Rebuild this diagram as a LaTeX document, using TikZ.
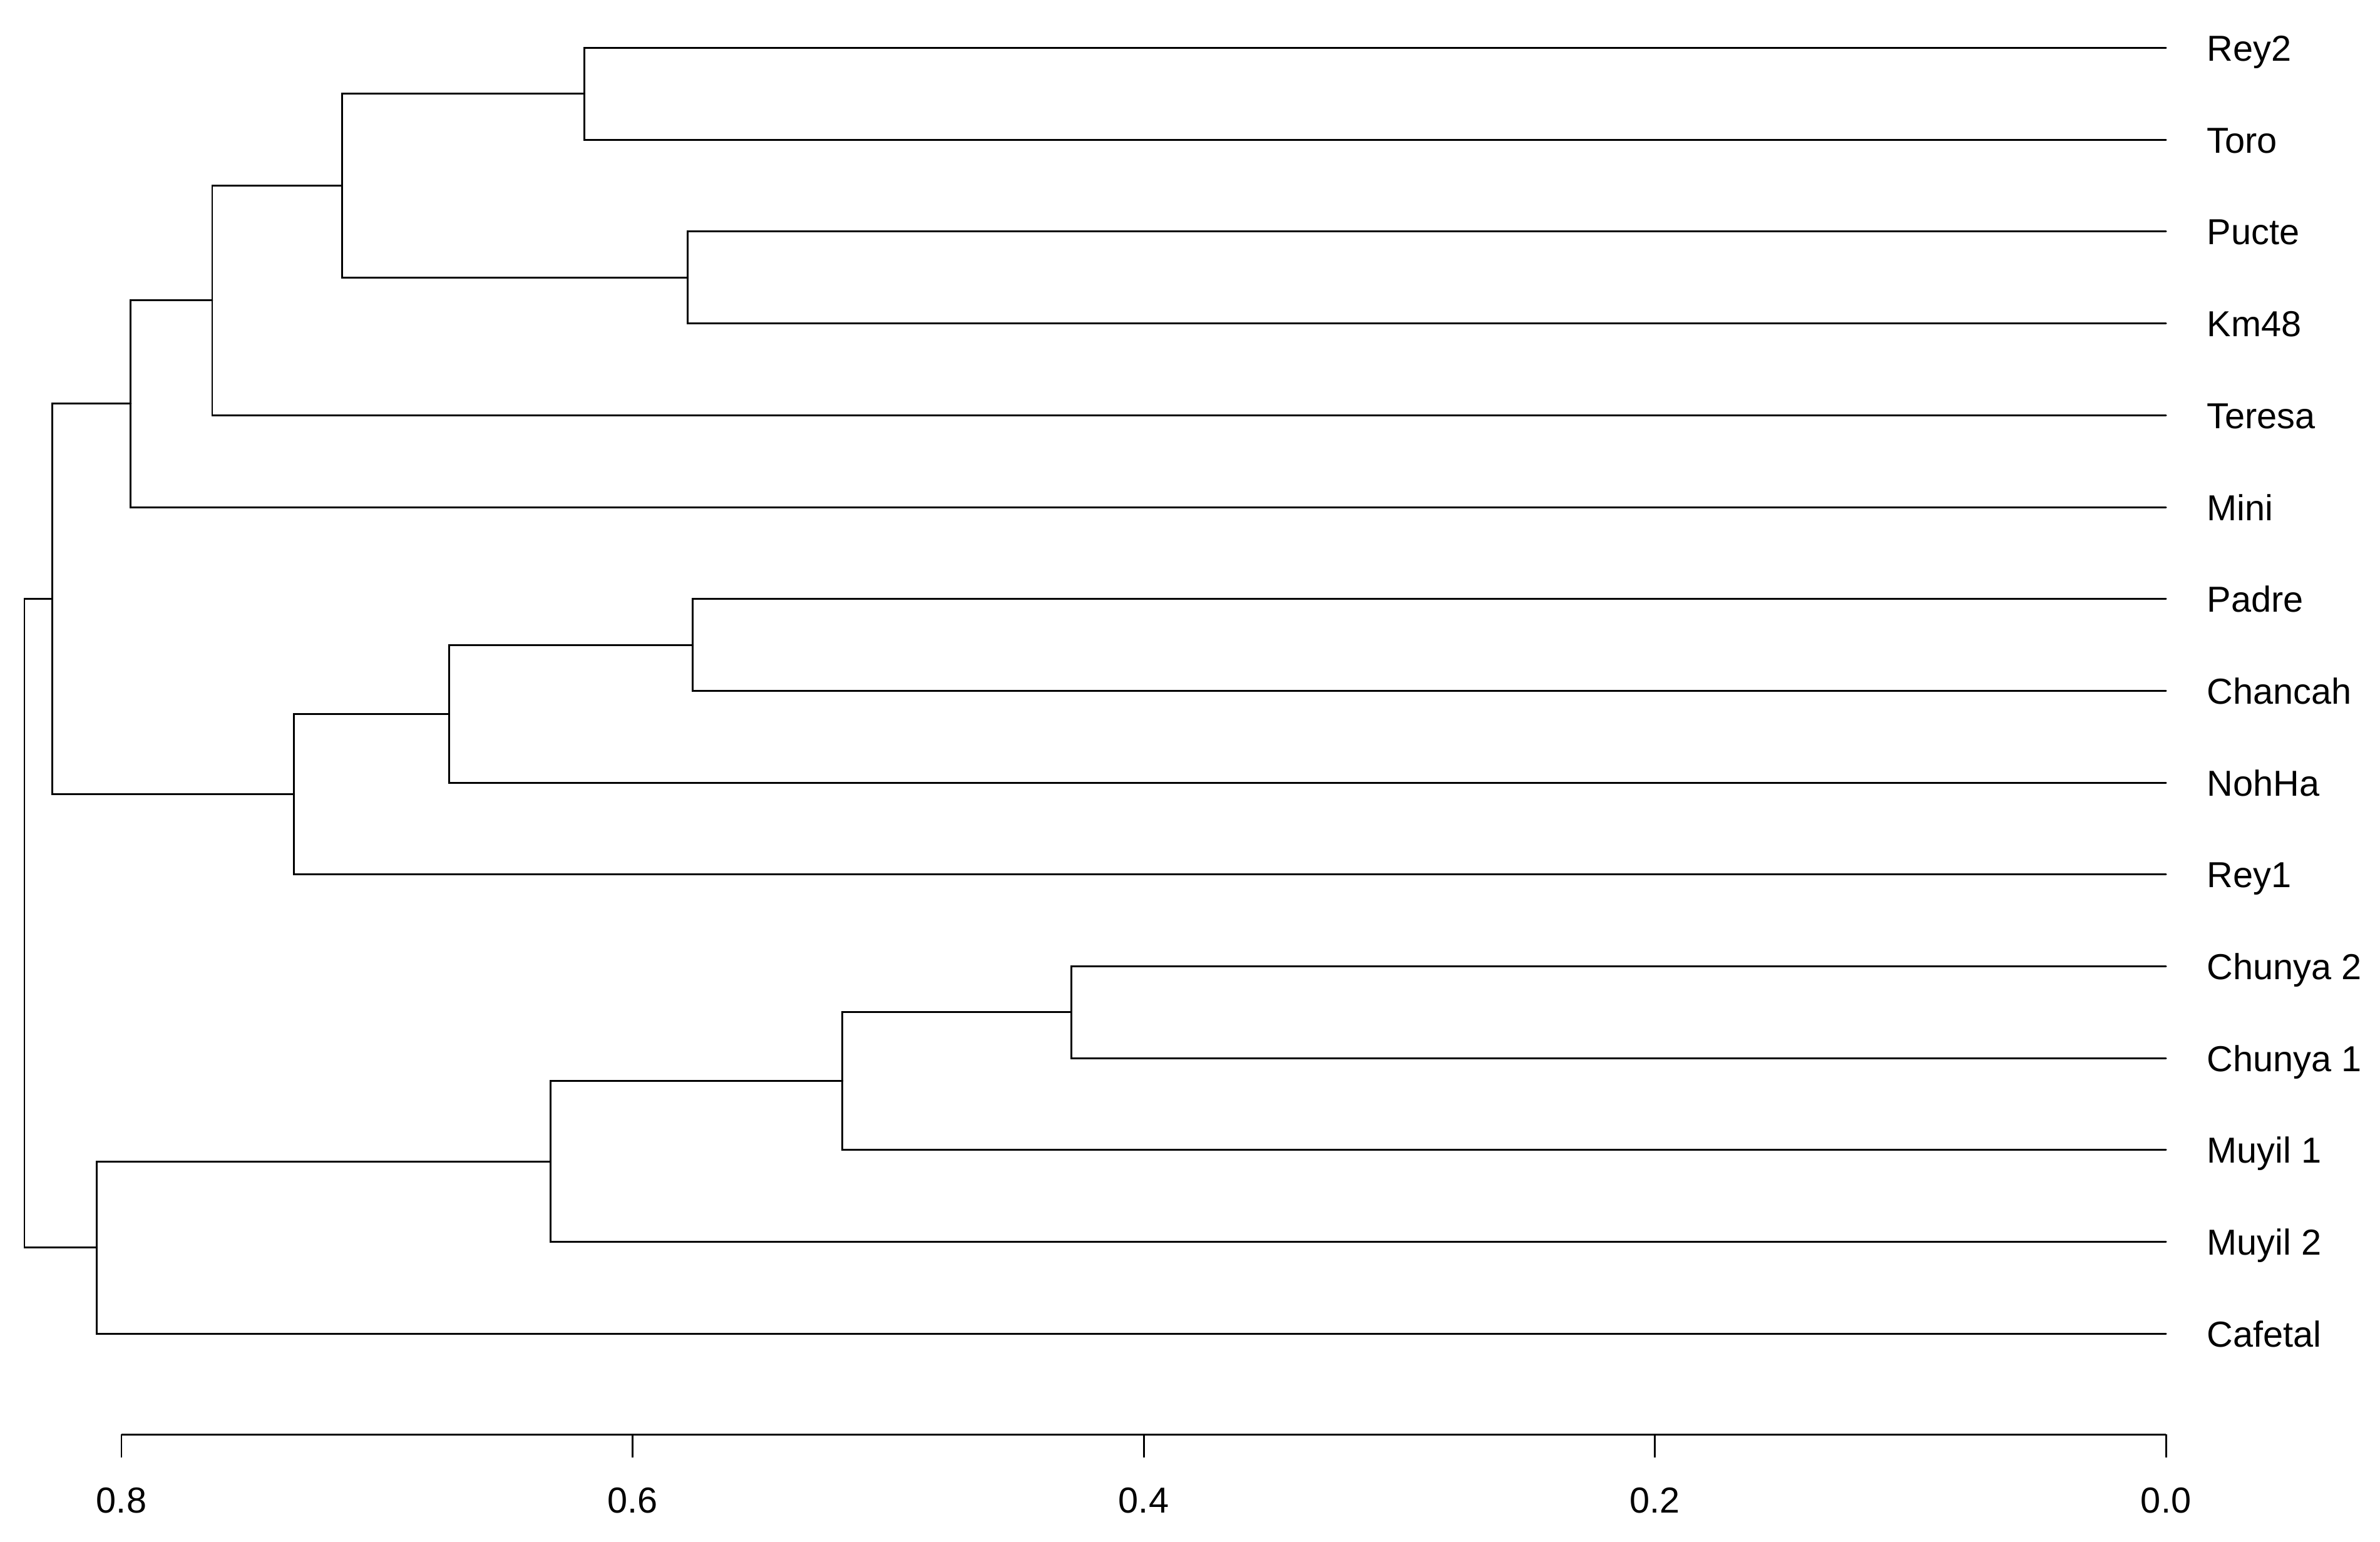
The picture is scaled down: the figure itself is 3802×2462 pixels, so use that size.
\documentclass[tikz,border=0pt]{standalone}
\usepackage{fontspec}
\setmainfont{Liberation Sans}
\begin{document}
\begin{tikzpicture}[x=0.01cm,y=-0.01cm,
  branch/.style={line width=0.85pt, line cap=round},
  leaflab/.style={anchor=base west, inner sep=0pt, font=\fontsize{16.4pt}{19pt}\selectfont},
  ticklab/.style={anchor=base, inner sep=0pt, font=\fontsize{16.4pt}{19pt}\selectfont},
  axisline/.style={line width=0.85pt}]
\useasboundingbox (0,0) rectangle (3802,2462);
% leaves (right ends, height 0)
\foreach \name/\i/\lab in {Rey2/0/Rey2, Toro/1/Toro, Pucte/2/Pucte, Km48/3/Km48, Teresa/4/Teresa,
  Mini/5/Mini, Padre/6/Padre, Chancah/7/Chancah, NohHa/8/NohHa, Rey1/9/Rey1,
  ChunyaB/10/Chunya 2, ChunyaA/11/Chunya 1, MuyilA/12/Muyil 1, MuyilB/13/Muyil 2, Cafetal/14/Cafetal}{
  \pgfmathsetmacro{\yy}{76.5+146.7*\i}
  \coordinate (\name) at (3460,\yy);
  \node[leaflab] (lab\name) at (3525,\yy+21) {\lab};
}
% internal nodes
\coordinate (nRT)    at (933.7,149.85);
\coordinate (nPK)    at (1098.2,443.25);
\coordinate (nRTPK)  at (546.4,296.55);
\coordinate (nTer)   at (339,479.93);
\coordinate (nMini)  at (208.9,644.96);
\coordinate (nPC)    at (1106.6,1030.05);
\coordinate (nNoh)   at (717,1140.08);
\coordinate (nRey1)  at (469.1,1268.44);
\coordinate (nTop)   at (83.4,956.7);
\coordinate (nCh)    at (1711.3,1616.85);
\coordinate (nMu1)   at (1345.8,1726.88);
\coordinate (nMu2)   at (879.3,1855.24);
\coordinate (nCaf)   at (154.6,1992.77);
\coordinate (root)   at (39,1474.7);
% branches
\draw[branch] (nRT) |- (Rey2);   \draw[branch] (nRT) |- (Toro);
\draw[branch] (nPK) |- (Pucte);  \draw[branch] (nPK) |- (Km48);
\draw[branch] (nRTPK) |- (nRT);  \draw[branch] (nRTPK) |- (nPK);
\draw[branch] (nTer) |- (nRTPK); \draw[branch] (nTer) |- (Teresa);
\draw[branch] (nMini) |- (nTer); \draw[branch] (nMini) |- (Mini);
\draw[branch] (nPC) |- (Padre);  \draw[branch] (nPC) |- (Chancah);
\draw[branch] (nNoh) |- (nPC);   \draw[branch] (nNoh) |- (NohHa);
\draw[branch] (nRey1) |- (nNoh); \draw[branch] (nRey1) |- (Rey1);
\draw[branch] (nTop) |- (nMini); \draw[branch] (nTop) |- (nRey1);
\draw[branch] (nCh) |- (ChunyaB); \draw[branch] (nCh) |- (ChunyaA);
\draw[branch] (nMu1) |- (nCh);   \draw[branch] (nMu1) |- (MuyilA);
\draw[branch] (nMu2) |- (nMu1);  \draw[branch] (nMu2) |- (MuyilB);
\draw[branch] (nCaf) |- (nMu2);  \draw[branch] (nCaf) |- (Cafetal);
\draw[branch] (root) |- (nTop);  \draw[branch] (root) |- (nCaf);
% axis
\draw[axisline] (194,2291) -- (3460,2291);
\foreach \v/\xx in {0.8/194, 0.6/1010.5, 0.4/1827, 0.2/2643.5, 0.0/3460}{
  \draw[axisline] (\xx,2291) -- (\xx,2328);
  \node[ticklab] at (\xx,2416) {\v};
}
\end{tikzpicture}
\end{document}
